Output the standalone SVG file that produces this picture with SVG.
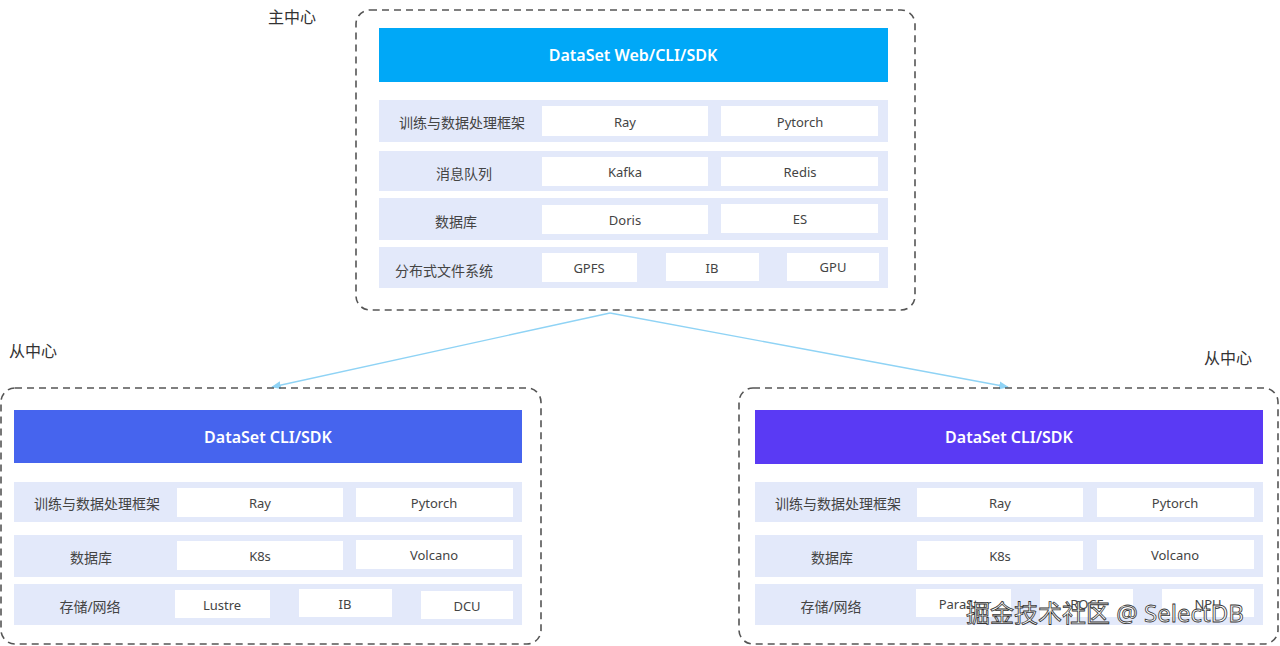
<svg xmlns="http://www.w3.org/2000/svg" width="1280" height="646" viewBox="0 0 1280 646">
<style>
text{font-family:"Noto Sans","Noto Sans CJK SC",sans-serif;fill:#444;text-anchor:middle;dominant-baseline:central}
.frame{fill:none;stroke:#555;stroke-width:1.6;stroke-dasharray:7 5}
.row{fill:#e3e9fa}
.cell{fill:#fff}
.hd{font-size:16px;fill:#fff;font-weight:600}
.lb{font-size:14px}
.ct{font-size:13px}
.cap{font-size:16px;fill:#333}
.wm{font-size:24px;fill:#fff;stroke:#333;stroke-width:0.8;text-anchor:start}
</style>
<defs><marker id="ar" viewBox="0 0 10 10" refX="9" refY="5" markerWidth="7" markerHeight="7" orient="auto"><path d="M0,1 L10,5 L0,9 z" fill="#8fd3f5"/></marker></defs>
<g id="connectors" stroke="#8fd3f5" stroke-width="1.4" fill="none">
<line x1="610" y1="313" x2="272" y2="387" marker-end="url(#ar)"/>
<line x1="610" y1="313" x2="1008" y2="387" marker-end="url(#ar)"/>
</g>
<g id="main">
<text class="cap" x="292" y="17">主中心</text>
<rect class="frame" x="356" y="10" width="559" height="300" rx="14"/>
<rect x="379" y="28" width="509" height="54" fill="#00a8f7"/>
<text class="hd" x="633" y="55">DataSet Web/CLI/SDK</text>
<rect class="row" x="379" y="100" width="509" height="42"/>
<text class="lb" x="462" y="122">训练与数据处理框架</text>
<rect class="cell" x="542" y="106" width="166" height="30"/><text class="ct" x="625" y="122">Ray</text>
<rect class="cell" x="721" y="106" width="157" height="30"/><text class="ct" x="800" y="122">Pytorch</text>
<rect class="row" x="379" y="151" width="509" height="40"/>
<text class="lb" x="464" y="173">消息队列</text>
<rect class="cell" x="542" y="157" width="166" height="29"/><text class="ct" x="625" y="172">Kafka</text>
<rect class="cell" x="721" y="157" width="157" height="29"/><text class="ct" x="800" y="172">Redis</text>
<rect class="row" x="379" y="198" width="509" height="42"/>
<text class="lb" x="456" y="221">数据库</text>
<rect class="cell" x="542" y="205" width="166" height="29"/><text class="ct" x="625" y="220">Doris</text>
<rect class="cell" x="721" y="204" width="157" height="29"/><text class="ct" x="800" y="219">ES</text>
<rect class="row" x="379" y="247" width="509" height="41"/>
<text class="lb" x="444" y="270">分布式文件系统</text>
<rect class="cell" x="542" y="253" width="95" height="29"/><text class="ct" x="589" y="268">GPFS</text>
<rect class="cell" x="666" y="253" width="93" height="28"/><text class="ct" x="712" y="268">IB</text>
<rect class="cell" x="787" y="253" width="92" height="28"/><text class="ct" x="833" y="267">GPU</text>
</g>
<g id="left">
<text class="cap" x="33" y="351">从中心</text>
<rect class="frame" x="1" y="388" width="540" height="256" rx="14"/>
<rect x="14" y="410" width="508" height="53" fill="#4664ee"/>
<text class="hd" x="268" y="437">DataSet CLI/SDK</text>
<rect class="row" x="14" y="482" width="508" height="40"/>
<text class="lb" x="97" y="503">训练与数据处理框架</text>
<rect class="cell" x="177" y="488" width="166" height="29"/><text class="ct" x="260" y="503">Ray</text>
<rect class="cell" x="356" y="488" width="157" height="29"/><text class="ct" x="434" y="503">Pytorch</text>
<rect class="row" x="14" y="535" width="508" height="42"/>
<text class="lb" x="91" y="557">数据库</text>
<rect class="cell" x="177" y="541" width="166" height="29"/><text class="ct" x="260" y="556">K8s</text>
<rect class="cell" x="356" y="540" width="157" height="29"/><text class="ct" x="434" y="555">Volcano</text>
<rect class="row" x="14" y="584" width="508" height="41"/>
<text class="lb" x="90" y="606">存储/网络</text>
<rect class="cell" x="175" y="590" width="95" height="28"/><text class="ct" x="222" y="605">Lustre</text>
<rect class="cell" x="299" y="589" width="93" height="28"/><text class="ct" x="345" y="604">IB</text>
<rect class="cell" x="421" y="591" width="92" height="28"/><text class="ct" x="467" y="606">DCU</text>
</g>
<g id="right">
<text class="cap" x="1228" y="358">从中心</text>
<rect class="frame" x="739" y="388" width="539" height="256" rx="14"/>
<rect x="755" y="410" width="508" height="54" fill="#5a3af4"/>
<text class="hd" x="1009" y="437">DataSet CLI/SDK</text>
<rect class="row" x="755" y="482" width="508" height="40"/>
<text class="lb" x="838" y="503">训练与数据处理框架</text>
<rect class="cell" x="917" y="488" width="166" height="29"/><text class="ct" x="1000" y="503">Ray</text>
<rect class="cell" x="1097" y="488" width="157" height="29"/><text class="ct" x="1175" y="503">Pytorch</text>
<rect class="row" x="755" y="535" width="508" height="42"/>
<text class="lb" x="832" y="557">数据库</text>
<rect class="cell" x="917" y="541" width="166" height="29"/><text class="ct" x="1000" y="556">K8s</text>
<rect class="cell" x="1097" y="540" width="157" height="29"/><text class="ct" x="1175" y="555">Volcano</text>
<rect class="row" x="755" y="584" width="508" height="41"/>
<text class="lb" x="831" y="606">存储/网络</text>
<rect class="cell" x="916" y="589" width="95" height="28"/><text class="ct" x="965" y="604">ParaStor</text>
<rect class="cell" x="1040" y="589" width="93" height="28"/><text class="ct" x="1087" y="604">ROCE</text>
<rect class="cell" x="1162" y="589" width="92" height="28"/><text class="ct" x="1208" y="604">NPU</text>
</g>
<text class="wm" x="966" y="612">掘金技术社区 @ SelectDB</text>
</svg>
